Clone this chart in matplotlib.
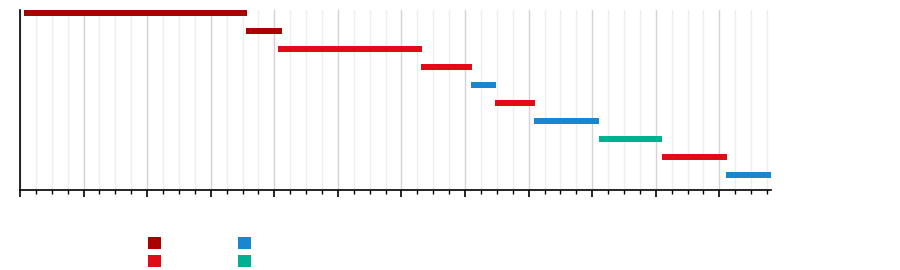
import matplotlib
matplotlib.use('Agg')
import matplotlib.pyplot as plt
from matplotlib.patches import Patch
from matplotlib.ticker import MultipleLocator

# --- data: one bar per row, start/end on the time axis ---
starts = [0.23, 14.2, 16.21, 25.2, 28.35, 29.87, 32.32, 36.41, 40.37, 44.4]
ends = [14.26, 16.46, 25.27, 28.42, 29.93, 32.38, 36.41, 40.4, 44.46, 47.23]
groups = ['A', 'A', 'B', 'B', 'C', 'B', 'C', 'D', 'B', 'C']

group_colors = {'A': '#aa0000', 'B': '#e30a17', 'C': '#1887d0', 'D': '#00b090'}
legend_order = ['A', 'B', 'C', 'D']

fig = plt.figure(figsize=(9, 2.7), dpi=100)
ax = fig.add_axes([20 / 900, 1 - 190 / 270, 751 / 900, 180 / 270])

rows = list(range(len(starts)))
widths = [e - s for s, e in zip(starts, ends)]
ax.barh(rows, widths, left=starts, height=0.34,
        color=[group_colors[g] for g in groups], zorder=3)

# rows sit close to the top, with extra room above the axis line
ax.set_ylim(len(rows) - 1 + 15 / 18, -3 / 18)
ax.set_xlim(0, 47.25)

ax.xaxis.set_major_locator(MultipleLocator(4))
ax.xaxis.set_minor_locator(MultipleLocator(1))
ax.grid(True, which='major', axis='x', color='#d4d4d4', linewidth=1, zorder=0)
ax.grid(True, which='minor', axis='x', color='#eeeeee', linewidth=1, zorder=0)
ax.set_yticks([])
ax.tick_params(axis='x', which='major', length=5, width=1.2, color='black',
               labelbottom=False, direction='out')
ax.tick_params(axis='x', which='minor', length=3, width=1, color='black',
               direction='out')

for side in ['top', 'right']:
    ax.spines[side].set_visible(False)
for side in ['left', 'bottom']:
    ax.spines[side].set_color('black')
    ax.spines[side].set_linewidth(1.2)

handles = [Patch(facecolor=group_colors[g], edgecolor='none') for g in legend_order]
fig.legend(handles, ['', '', '', ''], ncol=2, frameon=False,
           loc='upper left', bbox_to_anchor=(148 / 900, 1 - 237 / 270),
           borderpad=0, borderaxespad=0, handlelength=0.93, handleheight=0.93,
           handletextpad=0, columnspacing=5.55, labelspacing=0.25, fontsize=10)

fig.savefig('out.png', dpi=100)
